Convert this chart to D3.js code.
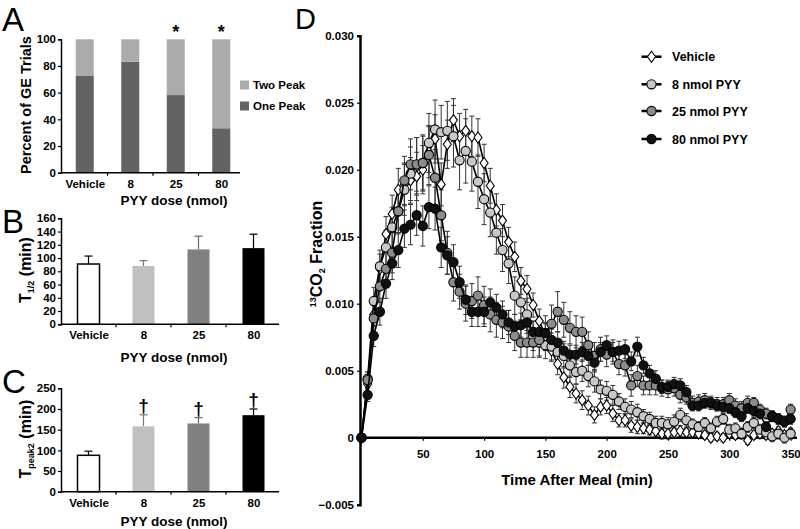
<!DOCTYPE html>
<html><head><meta charset="utf-8">
<script src="https://cdn.jsdelivr.net/npm/d3@7"></script>
<style>body{margin:0;background:#fff}svg{display:block}text{font-family:"Liberation Sans",Arial,sans-serif}</style>
</head><body><svg id="c" width="800" height="529"></svg>
<script>
// ---------------- DATA ----------------
const doseCats = ["Vehicle","8","25","80"];
// Panel A: percent of GE trials
const onePeak = [72.5, 83.2, 58.2, 33.3];
const twoPeak = [27.5, 16.8, 41.8, 66.7];
const aTicks = [0,20,40,60,80,100];
const aSig = ["", "", "*", "*"];
// Panel B: T1/2 (min)
const tHalf = [91, 88, 113, 115];
const tHalfErr = [12, 8, 20, 21];
const bTicks = [0,20,40,60,80,100,120,140,160];
// Panel C: Tpeak2 (min)
const tPeak2 = [88, 158, 165, 185];
const tPeak2Err = [10, 28, 14, 15];
const cTicks = [0,50,100,150,200,250];
const cSig = ["", "†", "†", "†"];
// Panel D: 13CO2 fraction time course
const times = [0,5,10,15,20,25,30,35,40,45,50,55,60,65,70,75,80,85,90,95,100,105,110,115,120,125,130,135,140,145,150,155,160,165,170,175,180,185,190,195,200,205,210,215,220,225,230,235,240,245,250,255,260,265,270,275,280,285,290,295,300,305,310,315,320,325,330,335,340,345,350];
const seriesNames = ["Vehicle","8 nmol PYY","25 nmol PYY","80 nmol PYY"];
const vehicle = [
 0, 0.0040, 0.0092, 0.0126, 0.0152, 0.0167, 0.0185, 0.0189, 0.0192, 0.0195,
 0.0200, 0.0213, 0.0223, 0.0189, 0.0219, 0.0237, 0.0225, 0.0229, 0.0225, 0.0224,
 0.0205, 0.0188, 0.0170, 0.0162, 0.0146, 0.0135, 0.0117, 0.0111, 0.0099, 0.0087,
 0.0076, 0.0065, 0.0055, 0.0045, 0.0038, 0.0033, 0.0028, 0.0024, 0.0017, 0.0023,
 0.0024, 0.0018, 0.0013, 0.0013, 0.0009, 0.0008, 0.0007, 0.0006, 0.0005, 0.0003,
 0.0003, 0.0004, 0.0005, 0.0004, 0.0004, 0.0003, 0.0002, 0.0000, 0.0001, 0.0000,
 0.0003, 0.0002, 0.0003, -0.0002, 0.0002, 0.0003, 0.0002, 0.0003, 0.0005, 0.0002,
 0.0004];
const pyy8 = [
 0, 0.0044, 0.0102, 0.0128, 0.0142, 0.0157, 0.0169, 0.0185, 0.0197, 0.0203,
 0.0205, 0.0220, 0.0230, 0.0228, 0.0229, 0.0225, 0.0207, 0.0214, 0.0206, 0.0191,
 0.0178, 0.0168, 0.0153, 0.0140, 0.0130, 0.0106, 0.0101, 0.0092, 0.0076, 0.0071,
 0.0069, 0.0068, 0.0064, 0.0061, 0.0054, 0.0049, 0.0050, 0.0046, 0.0042, 0.0036,
 0.0035, 0.0032, 0.0027, 0.0023, 0.0021, 0.0019, 0.0016, 0.0014, 0.0011, 0.0011,
 0.0010, 0.0012, 0.0017, 0.0013, 0.0010, 0.0008, 0.0011, 0.0007, 0.0012, 0.0014,
 0.0006, 0.0007, 0.0003, 0.0008, 0.0011, 0.0006, 0.0004, 0.0001, 0.0003, 0.0000,
 0.0003];
const pyy25 = [
 0, 0.0043, 0.0089, 0.0113, 0.0126, 0.0138, 0.0169, 0.0192, 0.0204, 0.0204,
 0.0205, 0.0211, 0.0194, 0.0166, 0.0138, 0.0116, 0.0109, 0.0100, 0.0102, 0.0106,
 0.0099, 0.0092, 0.0088, 0.0086, 0.0083, 0.0076, 0.0071, 0.0071, 0.0071, 0.0073,
 0.0078, 0.0085, 0.0094, 0.0088, 0.0082, 0.0079, 0.0079, 0.0069, 0.0061, 0.0066,
 0.0062, 0.0064, 0.0055, 0.0054, 0.0039, 0.0046, 0.0039, 0.0039, 0.0039, 0.0037,
 0.0036, 0.0037, 0.0032, 0.0030, 0.0026, 0.0027, 0.0028, 0.0026, 0.0025, 0.0025,
 0.0028, 0.0024, 0.0022, 0.0026, 0.0026, 0.0021, 0.0018, 0.0016, 0.0014, 0.0012,
 0.0021];
const pyy80 = [
 0, 0.0032, 0.0076, 0.0094, 0.0115, 0.0130, 0.0140, 0.0156, 0.0159, 0.0166,
 0.0158, 0.0172, 0.0171, 0.0142, 0.0136, 0.0131, 0.0116, 0.0103, 0.0094, 0.0094,
 0.0094, 0.0101, 0.0097, 0.0092, 0.0086, 0.0083, 0.0084, 0.0086, 0.0079, 0.0079,
 0.0078, 0.0073, 0.0071, 0.0065, 0.0062, 0.0062, 0.0064, 0.0061, 0.0056, 0.0064,
 0.0069, 0.0064, 0.0065, 0.0066, 0.0057, 0.0068, 0.0054, 0.0048, 0.0044, 0.0038,
 0.0038, 0.0040, 0.0039, 0.0034, 0.0024, 0.0024, 0.0026, 0.0026, 0.0024, 0.0023,
 0.0022, 0.0019, 0.0016, 0.0022, 0.0020, 0.0018, 0.0008, 0.0016, 0.0014, 0.0012,
 0.0014];
const vehicleErr = [
 0, 0.0006, 0.0009, 0.0011, 0.0013, 0.0014, 0.0016, 0.0016, 0.0017, 0.0018,
 0.0018, 0.0019, 0.0018, 0.0016, 0.0018, 0.0016, 0.0017, 0.0016, 0.0015, 0.0014,
 0.0014, 0.0013, 0.0012, 0.0012, 0.0011, 0.0011, 0.0010, 0.0010, 0.0009, 0.0009,
 0.0009, 0.0008, 0.0008, 0.0008, 0.0008, 0.0007, 0.0007, 0.0007, 0.0006, 0.0006,
 0.0006, 0.0006, 0.0005, 0.0005, 0.0005, 0.0005, 0.0004, 0.0004, 0.0004, 0.0004,
 0.0004, 0.0004, 0.0004, 0.0003, 0.0003, 0.0003, 0.0003, 0.0003, 0.0003, 0.0003,
 0.0003, 0.0003, 0.0003, 0.0003, 0.0003, 0.0003, 0.0003, 0.0003, 0.0003, 0.0003,
 0.0003];
const pyy8Err = [
 0, 0.0005, 0.0010, 0.0012, 0.0013, 0.0015, 0.0017, 0.0019, 0.0020, 0.0021,
 0.0021, 0.0022, 0.0022, 0.0020, 0.0022, 0.0023, 0.0022, 0.0024, 0.0022, 0.0020,
 0.0019, 0.0018, 0.0016, 0.0016, 0.0015, 0.0014, 0.0013, 0.0012, 0.0011, 0.0011,
 0.0010, 0.0010, 0.0010, 0.0009, 0.0009, 0.0009, 0.0008, 0.0008, 0.0008, 0.0007,
 0.0007, 0.0007, 0.0006, 0.0006, 0.0006, 0.0006, 0.0005, 0.0005, 0.0005, 0.0005,
 0.0005, 0.0005, 0.0005, 0.0005, 0.0004, 0.0004, 0.0004, 0.0004, 0.0004, 0.0004,
 0.0004, 0.0004, 0.0004, 0.0004, 0.0004, 0.0004, 0.0004, 0.0004, 0.0004, 0.0004,
 0.0004];
const pyy25Err = [
 0, 0.0006, 0.0010, 0.0012, 0.0014, 0.0015, 0.0016, 0.0018, 0.0019, 0.0020,
 0.0020, 0.0022, 0.0021, 0.0019, 0.0016, 0.0014, 0.0013, 0.0013, 0.0013, 0.0014,
 0.0014, 0.0013, 0.0013, 0.0012, 0.0012, 0.0011, 0.0011, 0.0011, 0.0011, 0.0012,
 0.0013, 0.0014, 0.0015, 0.0013, 0.0012, 0.0012, 0.0011, 0.0010, 0.0010, 0.0009,
 0.0009, 0.0009, 0.0008, 0.0008, 0.0008, 0.0008, 0.0007, 0.0007, 0.0007, 0.0006,
 0.0006, 0.0006, 0.0006, 0.0005, 0.0005, 0.0005, 0.0005, 0.0005, 0.0005, 0.0005,
 0.0005, 0.0005, 0.0005, 0.0005, 0.0004, 0.0004, 0.0004, 0.0004, 0.0004, 0.0004,
 0.0004];
const pyy80Err = [
 0, 0.0005, 0.0008, 0.0010, 0.0011, 0.0012, 0.0013, 0.0014, 0.0015, 0.0015,
 0.0015, 0.0016, 0.0016, 0.0015, 0.0014, 0.0013, 0.0012, 0.0011, 0.0011, 0.0011,
 0.0011, 0.0010, 0.0010, 0.0010, 0.0009, 0.0009, 0.0009, 0.0008, 0.0008, 0.0008,
 0.0008, 0.0008, 0.0008, 0.0007, 0.0007, 0.0007, 0.0007, 0.0007, 0.0007, 0.0007,
 0.0007, 0.0007, 0.0007, 0.0007, 0.0007, 0.0007, 0.0006, 0.0006, 0.0006, 0.0005,
 0.0005, 0.0005, 0.0005, 0.0005, 0.0004, 0.0004, 0.0004, 0.0004, 0.0004, 0.0004,
 0.0004, 0.0004, 0.0004, 0.0004, 0.0004, 0.0004, 0.0004, 0.0004, 0.0004, 0.0004,
 0.0004];
const dYTicks = [-0.005,0,0.005,0.010,0.015,0.020,0.025,0.030];
const dXTicks = [50,100,150,200,250,300,350];

// ---------------- STYLE ----------------
const FONT = '"Liberation Sans",Arial,sans-serif';
const barFill = ["#ffffff","#c0c0c0","#808080","#000000"];
const errCol = ["#000","#777","#666","#000"];
const serFill = ["#ffffff","#c8c8c8","#8c8c8c","#111111"];
const svg = d3.select("#c");

function styleAxis(g, fs){
  g.attr("font-family", FONT).attr("font-size", fs).attr("font-weight","bold");
  g.selectAll(".tick text").attr("fill","#000");
  g.selectAll(".tick line").attr("stroke","#000").attr("stroke-width",1.2);
}
function letter(txt,x,y,fs){
  svg.append("text").attr("x",x).attr("y",y).attr("font-family",FONT)
    .attr("font-size",fs).attr("font-weight",400).text(txt);
}

// ---------------- PANEL A ----------------
const xA = d3.scalePoint().domain(doseCats).range([62,244]).padding(0.5);
const yA = d3.scaleLinear().domain([0,100]).range([172.7,39.3]);
const gA = svg.append("g");
const bwA = 18;
gA.selectAll("rect.one").data(doseCats).join("rect")
  .attr("x",d=>xA(d)-bwA/2).attr("width",bwA)
  .attr("y",(d,i)=>yA(onePeak[i])).attr("height",(d,i)=>yA(0)-yA(onePeak[i])).attr("fill","#636363");
gA.selectAll("rect.two").data(doseCats).join("rect")
  .attr("x",d=>xA(d)-bwA/2).attr("width",bwA)
  .attr("y",(d,i)=>yA(onePeak[i]+twoPeak[i])).attr("height",(d,i)=>yA(onePeak[i])-yA(onePeak[i]+twoPeak[i])).attr("fill","#ababab");
gA.selectAll("text.sig").data(doseCats).join("text")
  .attr("x",d=>xA(d)).attr("y",yA(100)-1).attr("text-anchor","middle")
  .attr("font-size",18).attr("font-weight","bold").attr("font-family",FONT)
  .text((d,i)=>aSig[i]);
const ayAxis = gA.append("g").attr("transform",`translate(61,0)`)
  .call(d3.axisLeft(yA).tickValues(aTicks).tickSize(3).tickPadding(2));
styleAxis(ayAxis,11.5);
ayAxis.select(".domain").attr("stroke","#000").attr("stroke-width",1.5);
const axAxis = gA.append("g").attr("transform",`translate(0,${yA(0)})`)
  .call(d3.axisBottom(xA).tickSize(0).tickPadding(7));
styleAxis(axAxis,11.5);
axAxis.select(".domain").remove();
gA.append("line").attr("x1",61).attr("x2",240).attr("y1",yA(0)).attr("y2",yA(0)).attr("stroke","#000").attr("stroke-width",1.5);
doseCats.slice(0,3).forEach(c=>{
  const xx = xA(c)+xA.step()/2;
  gA.append("line").attr("x1",xx).attr("x2",xx).attr("y1",yA(0)).attr("y2",yA(0)+3).attr("stroke","#000").attr("stroke-width",1.2);
});
gA.append("text").attr("x",174).attr("y",205).attr("text-anchor","middle")
  .attr("font-size",13.5).attr("font-weight","bold").attr("font-family",FONT).text("PYY dose (nmol)");
gA.append("text").attr("transform","translate(31,105) rotate(-90)").attr("text-anchor","middle")
  .attr("font-size",14.5).attr("font-weight","bold").attr("font-family",FONT).text("Percent of GE Trials");
[["Two Peak","#ababab",85],["One Peak","#636363",106]].forEach(([t,c,y])=>{
  gA.append("rect").attr("x",240).attr("y",y-4.5).attr("width",9).attr("height",9).attr("fill",c);
  gA.append("text").attr("x",253).attr("y",y+4).attr("font-size",11.5).attr("font-weight","bold").attr("font-family",FONT).text(t);
});
letter("A",2,31,33);

// ---------------- PANEL B & C ----------------
const xB = d3.scalePoint().domain(doseCats).range([61,281]).padding(0.5);
const bw = 22;
function barPanel(yScale, vals, errs, ticks, sig, ylabelSub, ylabelY, titleY){
  const g = svg.append("g");
  g.selectAll("line.err").data(doseCats).join("line")
    .attr("x1",d=>xB(d)).attr("x2",d=>xB(d))
    .attr("y1",(d,i)=>yScale(vals[i])).attr("y2",(d,i)=>yScale(vals[i]+errs[i]))
    .attr("stroke",(d,i)=>errCol[i]).attr("stroke-width",1.2);
  g.selectAll("line.cap").data(doseCats).join("line")
    .attr("x1",d=>xB(d)-4).attr("x2",d=>xB(d)+4)
    .attr("y1",(d,i)=>yScale(vals[i]+errs[i])).attr("y2",(d,i)=>yScale(vals[i]+errs[i]))
    .attr("stroke",(d,i)=>errCol[i]).attr("stroke-width",1.2);
  g.selectAll("rect").data(doseCats).join("rect")
    .attr("x",d=>xB(d)-bw/2).attr("width",bw)
    .attr("y",(d,i)=>yScale(vals[i])).attr("height",(d,i)=>yScale(0)-yScale(vals[i]))
    .attr("fill",(d,i)=>barFill[i]).attr("stroke",(d,i)=>i===0?"#000":"none").attr("stroke-width",1.5);
  if(sig){
    g.selectAll("text.sig").data(doseCats).join("text")
      .attr("x",d=>xB(d)).attr("y",(d,i)=>yScale(vals[i]+errs[i])-3).attr("text-anchor","middle")
      .attr("font-size",19).attr("font-weight","bold").attr("font-family",FONT).text((d,i)=>sig[i]);
  }
  const ya = g.append("g").attr("transform","translate(61,0)")
    .call(d3.axisLeft(yScale).tickValues(ticks).tickSize(3).tickPadding(2));
  styleAxis(ya,11.5);
  ya.select(".domain").attr("stroke","#000").attr("stroke-width",1.5);
  const xa = g.append("g").attr("transform",`translate(0,${yScale(0)})`)
    .call(d3.axisBottom(xB).tickSize(0).tickPadding(7));
  styleAxis(xa,11.5);
  xa.select(".domain").remove();
  g.append("line").attr("x1",61).attr("x2",279).attr("y1",yScale(0)).attr("y2",yScale(0)).attr("stroke","#000").attr("stroke-width",1.5);
  doseCats.slice(0,3).forEach(c=>{
    const xx = xB(c)+xB.step()/2;
    g.append("line").attr("x1",xx).attr("x2",xx).attr("y1",yScale(0)).attr("y2",yScale(0)+3).attr("stroke","#000").attr("stroke-width",1.2);
  });
  g.append("text").attr("x",174).attr("y",titleY).attr("text-anchor","middle")
    .attr("font-size",13.5).attr("font-weight","bold").attr("font-family",FONT).text("PYY dose (nmol)");
  const yl = g.append("text").attr("transform",`translate(31,${ylabelY}) rotate(-90)`).attr("text-anchor","middle")
    .attr("font-size",16).attr("font-weight","bold").attr("font-family",FONT);
  yl.append("tspan").text("T");
  yl.append("tspan").attr("font-size",9).attr("dy",3).text(ylabelSub);
  yl.append("tspan").attr("dy",-3).text(" (min)");
}
const yB = d3.scaleLinear().domain([0,160]).range([324.3,218.3]);
barPanel(yB, tHalf, tHalfErr, bTicks, null, "1/2", 270, 362);
letter("B",2,233,33);
const yC = d3.scaleLinear().domain([0,250]).range([491.7,388.3]);
barPanel(yC, tPeak2, tPeak2Err, cTicks, cSig, "peak2", 439, 526);
letter("C",2,393,33);

// ---------------- PANEL D ----------------
const xD = d3.scaleLinear().domain([0,350]).range([361.5,790.6]);
const yD = d3.scaleLinear().domain([-0.005,0.030]).range([504.7,35.7]);
const gD = svg.append("g");
const dyAxis = gD.append("g").attr("transform","translate(360,0)")
  .call(d3.axisLeft(yD).tickValues(dYTicks).tickSize(3).tickPadding(3)
    .tickFormat(d=> d===0 ? "0" : d3.format(".3f")(d)));
styleAxis(dyAxis,11.5);
dyAxis.select(".domain").attr("stroke","#000").attr("stroke-width",2.5);
const dxAxis = gD.append("g").attr("transform",`translate(0,${yD(0)})`)
  .call(d3.axisBottom(xD).tickValues(dXTicks).tickSize(3).tickPadding(9));
styleAxis(dxAxis,11.5);
dxAxis.select(".domain").remove();
gD.append("line").attr("x1",360).attr("x2",797).attr("y1",yD(0)).attr("y2",yD(0)).attr("stroke","#000").attr("stroke-width",2.5);

const allSeries = [vehicle, pyy8, pyy25, pyy80];
const allErr = [vehicleErr, pyy8Err, pyy25Err, pyy80Err];
const diamond = "M0,-5.5L4,0L0,5.5L-4,0Z";
function drawMarker(sel, i){
  if(i===0){
    sel.append("path").attr("d",diamond).attr("fill",serFill[i]).attr("stroke","#000").attr("stroke-width",1.1);
  } else {
    sel.append("circle").attr("r",4.6).attr("fill",serFill[i]).attr("stroke","#000").attr("stroke-width",1.1);
  }
}
// error bars
allSeries.forEach((s,i)=>{
  const eg = gD.append("g").attr("stroke","#333").attr("stroke-width",1);
  times.forEach((t,j)=>{
    if(allErr[i][j]<=0) return;
    const x = xD(t), y1 = yD(s[j]-allErr[i][j]), y2 = yD(s[j]+allErr[i][j]);
    eg.append("line").attr("x1",x).attr("x2",x).attr("y1",y1).attr("y2",y2);
    eg.append("line").attr("x1",x-2.5).attr("x2",x+2.5).attr("y1",y1).attr("y2",y1);
    eg.append("line").attr("x1",x-2.5).attr("x2",x+2.5).attr("y1",y2).attr("y2",y2);
  });
});
const lineGen = d3.line().x(d=>xD(d[0])).y(d=>yD(d[1]));
allSeries.forEach((s,i)=>{
  const pts = times.map((t,j)=>[t,s[j]]);
  gD.append("path").attr("d",lineGen(pts)).attr("fill","none").attr("stroke","#000").attr("stroke-width",1.6);
  const mg = gD.append("g");
  pts.forEach(p=>{
    const m = mg.append("g").attr("transform",`translate(${xD(p[0])},${yD(p[1])})`);
    drawMarker(m,i);
  });
});
// axis labels
gD.append("text").attr("x",577).attr("y",485).attr("text-anchor","middle")
  .attr("font-size",15).attr("font-weight","bold").attr("font-family",FONT).text("Time After Meal (min)");
const dl = gD.append("text").attr("transform","translate(322,254) rotate(-90)").attr("text-anchor","middle")
  .attr("font-size",16).attr("font-weight","bold").attr("font-family",FONT);
dl.append("tspan").attr("font-size",9).attr("dy",-6).text("13");
dl.append("tspan").attr("dy",6).text("CO");
dl.append("tspan").attr("font-size",9).attr("dy",3).text("2");
dl.append("tspan").attr("dy",-3).text(" Fraction");
// legend
const legY = [56.7, 84.3, 111, 139];
seriesNames.forEach((n,i)=>{
  const lg = gD.append("g").attr("transform",`translate(0,${legY[i]})`);
  lg.append("line").attr("x1",641.5).attr("x2",661.5).attr("y1",0).attr("y2",0).attr("stroke","#000").attr("stroke-width",2.5);
  const m = lg.append("g").attr("transform","translate(651.5,0)");
  drawMarker(m,i);
  lg.append("text").attr("x",672).attr("y",4.5).attr("font-size",12.5).attr("font-weight","bold").attr("font-family",FONT).text(n);
});
letter("D",295,29,29);
</script></body></html>
